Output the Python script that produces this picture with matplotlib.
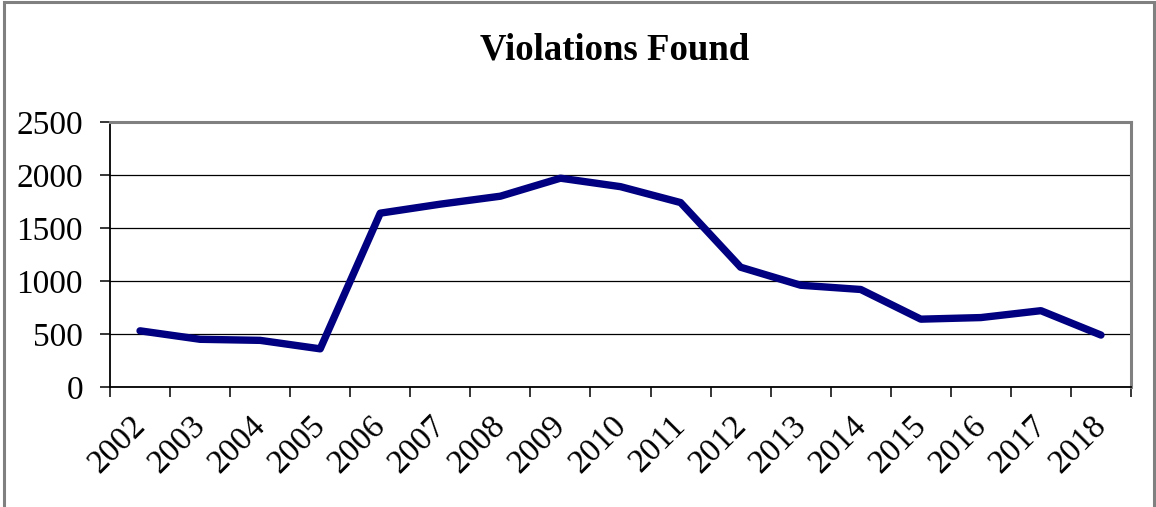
import matplotlib
matplotlib.use('Agg')
import matplotlib.pyplot as plt
from matplotlib.patches import Rectangle
from matplotlib.transforms import ScaledTranslation

# Data
YEARS = ['2002', '2003', '2004', '2005', '2006', '2007', '2008', '2009', '2010',
         '2011', '2012', '2013', '2014', '2015', '2016', '2017', '2018']
VIOLATIONS = [530, 450, 440, 360, 1640, 1725, 1800, 1970, 1890,
              1740, 1130, 960, 920, 640, 655, 720, 490]
Y_TICKS = [0, 500, 1000, 1500, 2000, 2500]
TITLE = 'Violations Found'

W, H = 1156, 507
plt.rcParams['font.family'] = ['Liberation Serif', 'DejaVu Serif']

fig = plt.figure(figsize=(W / 100, H / 100), dpi=100)
fig.patch.set_facecolor('white')

# Outer chart border (gray frame, bottom runs off the picture)
fig.patches.append(Rectangle((4 / W, -0.05), 1150 / W, 1.05 - 2 / H,
                             transform=fig.transFigure, fill=False,
                             edgecolor='#808080', linewidth=2.2))

ax = fig.add_axes([110 / W, 1 - 387 / H, 1021 / W, 265 / H])
x = [i + 0.5 for i in range(len(YEARS))]
ax.plot(x, VIOLATIONS, color='#000080', linewidth=5.3,
        solid_capstyle='round', solid_joinstyle='round', zorder=3)

ax.set_xlim(0, len(YEARS))
ax.set_ylim(0, 2500)
ax.set_yticks(Y_TICKS)
ax.set_yticklabels([str(v) for v in Y_TICKS])
ax.yaxis.grid(True, color='black', linewidth=0.9)
ax.set_axisbelow(True)

# Category labels at centres, tick marks at boundaries
ax.set_xticks(x)
ax.set_xticklabels(YEARS, rotation=45, ha='right', va='top',
                   rotation_mode='anchor')
ax.set_xticks(range(len(YEARS) + 1), minor=True)
ax.tick_params(axis='x', which='major', length=0, pad=17, labelsize=24)
ax.tick_params(axis='x', which='minor', length=7, width=1.1, color='black')
ax.tick_params(axis='y', length=7.5, width=1.1, pad=12, labelsize=24)
offset = ScaledTranslation(-10 / 100, 0, fig.dpi_scale_trans)
for lab in ax.get_xticklabels():
    lab.set_transform(lab.get_transform() + offset)

for side in ('left', 'bottom'):
    ax.spines[side].set_color('black')
    ax.spines[side].set_linewidth(1.3)
for side in ('top', 'right'):
    ax.spines[side].set_color('#808080')
    ax.spines[side].set_linewidth(2.2)

fig.text(614.5 / W, 1 - 60 / H, TITLE, ha='center', va='baseline',
         fontsize=26.5, fontweight='bold')

fig.savefig('out.png', dpi=100)
